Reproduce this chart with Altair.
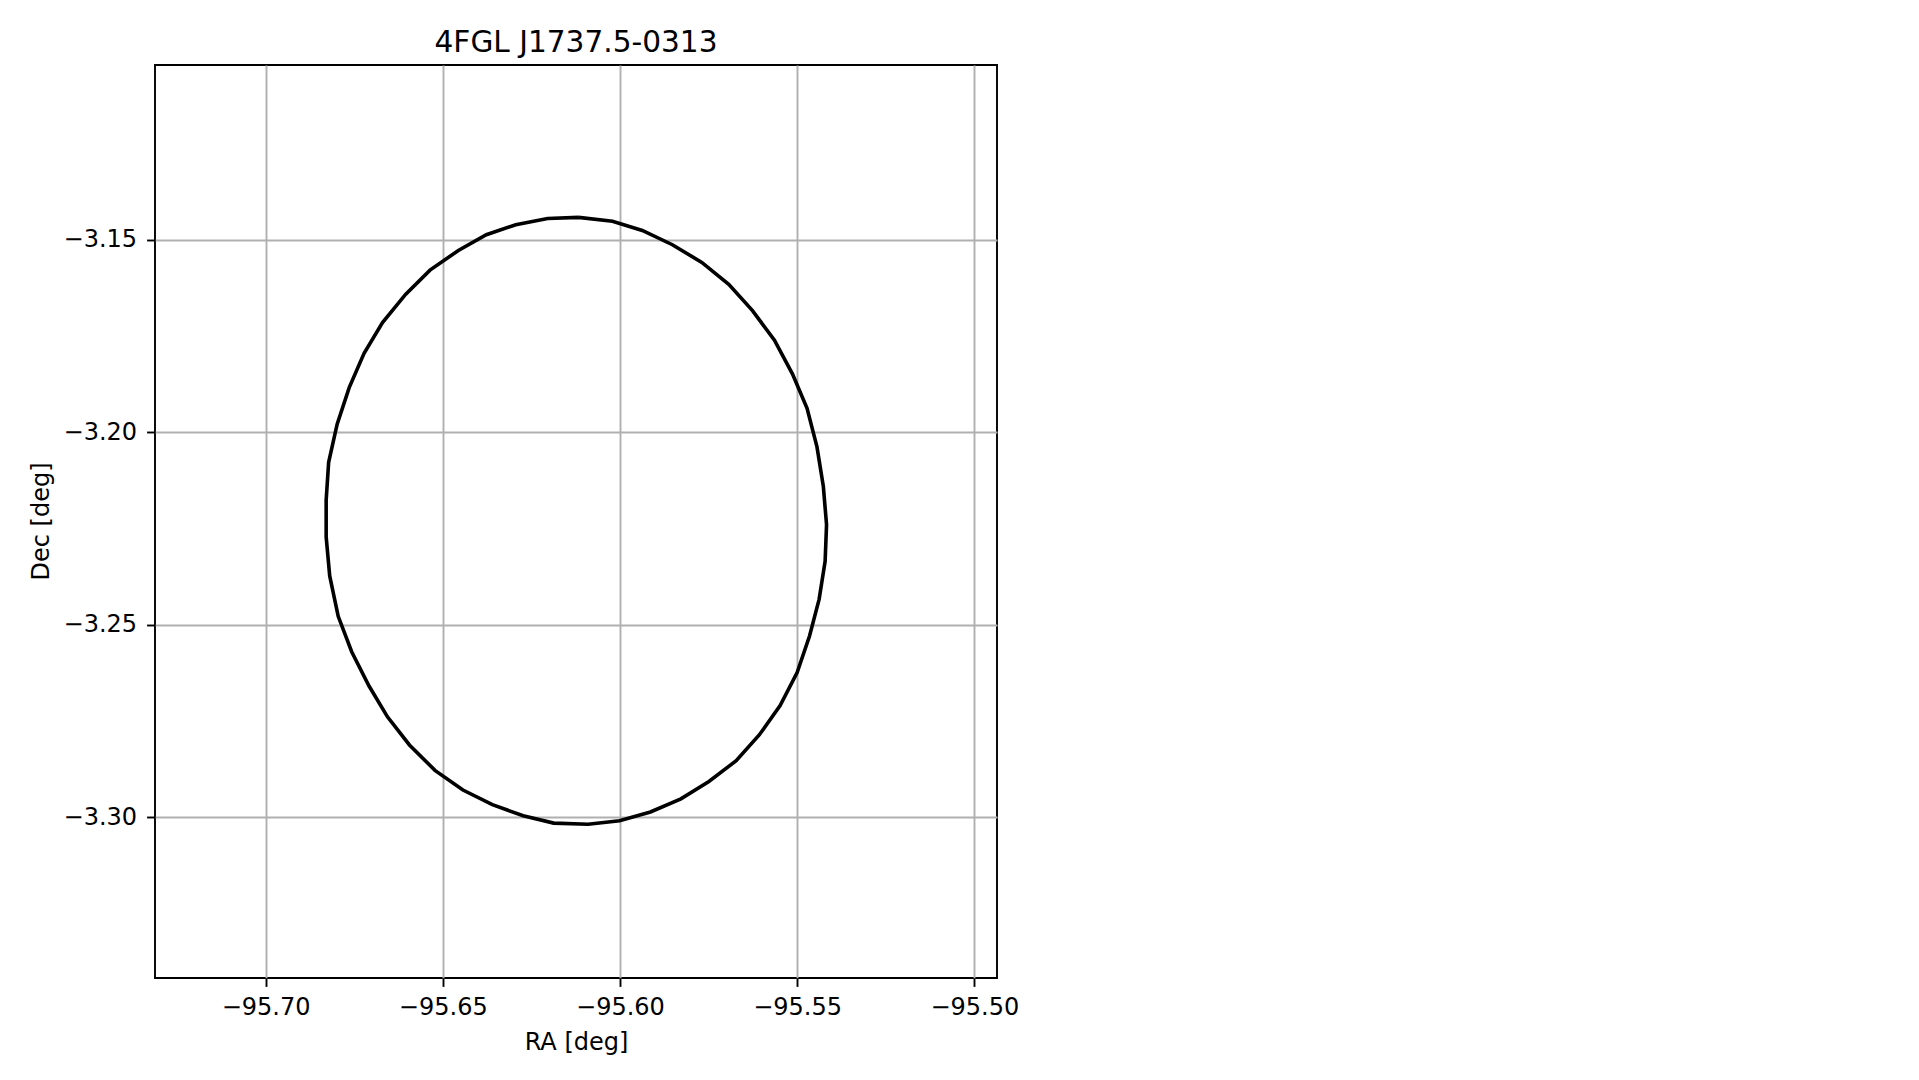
import altair as alt
import pandas as pd

# Ellipse vertices, in drawing order
ra = [-95.6117, -95.6021, -95.5937, -95.5852, -95.5769, -95.5693, -95.5626, -95.5564,
      -95.5513, -95.5472, -95.5444, -95.5426, -95.5417, -95.5421, -95.5438, -95.5465,
      -95.5500, -95.5548, -95.5607, -95.5672, -95.5749, -95.5828, -95.5914, -95.6001,
      -95.6090, -95.6187, -95.6273, -95.6360, -95.6443, -95.6522, -95.6594, -95.6656,
      -95.6708, -95.6757, -95.6795, -95.6819, -95.6829, -95.6829, -95.6822, -95.6798,
      -95.6764, -95.6722, -95.6670, -95.6605, -95.6536, -95.6456, -95.6377, -95.6294,
      -95.6204, -95.6117]
dec = [-3.1442, -3.1452, -3.1476, -3.1513, -3.1559, -3.1616, -3.1684, -3.1761,
       -3.1849, -3.1938, -3.2038, -3.2141, -3.2240, -3.2335, -3.2434, -3.2529,
       -3.2624, -3.2710, -3.2786, -3.2853, -3.2907, -3.2952, -3.2986, -3.3009,
       -3.3018, -3.3015, -3.2996, -3.2967, -3.2929, -3.2878, -3.2812, -3.2739,
       -3.2659, -3.2570, -3.2478, -3.2373, -3.2272, -3.2176, -3.2078, -3.1979,
       -3.1884, -3.1795, -3.1715, -3.1642, -3.1579, -3.1528, -3.1487, -3.1461,
       -3.1445, -3.1442]

x_ticks = [-95.70, -95.65, -95.60, -95.55, -95.50]
y_ticks = [-3.15, -3.20, -3.25, -3.30]
x_domain = [-95.7312, -95.4936]
y_domain = [-3.34172, -3.10463]

df = pd.DataFrame({"ra": ra, "dec": dec, "i": list(range(len(ra)))})

FONT = "DejaVu Sans"

axis_common = dict(
    grid=True, gridColor="#b0b0b0", gridWidth=1.9, domain=False,
    tickColor="black", tickWidth=1.9, tickSize=8.4,
    labelFont=FONT, labelFontSize=24, labelColor="black",
    titleFont=FONT, titleFontSize=24, titleColor="black", titleFontWeight="normal",
    titleBaseline="alphabetic",
)

chart = alt.Chart(df).mark_line(color="black", strokeWidth=3.6, clip=True).encode(
    x=alt.X("ra:Q",
            scale=alt.Scale(domain=x_domain, nice=False, zero=False),
            axis=alt.Axis(values=x_ticks, format=".2f", title="RA [deg]",
                          labelPadding=9, titleY=71, titleX=421, titleAnchor="start",
                          titleAlign="center", **axis_common)),
    y=alt.Y("dec:Q",
            scale=alt.Scale(domain=y_domain, nice=False, zero=False),
            axis=alt.Axis(values=y_ticks, format=".2f", title="Dec [deg]",
                          labelPadding=10, titleX=-107, titleY=456, titleAngle=-90,
                          titleAlign="center", titleAnchor="start", **axis_common)),
    order="i:Q",
).properties(
    width=842, height=913,
    title=alt.TitleParams("4FGL J1737.5-0313", font=FONT, fontSize=29.6,
                          fontWeight="normal", color="black", anchor="middle",
                          frame="group", baseline="alphabetic", offset=-16.5),
    autosize=alt.AutoSizeParams(type="none"),
    padding={"left": 147, "top": 57, "right": 50, "bottom": 90},
).configure(
    background="white",
    view=alt.ViewConfig(stroke="black", strokeWidth=1.9),
)

chart.save("out.html", embed_options={"renderer": "svg", "actions": False})
